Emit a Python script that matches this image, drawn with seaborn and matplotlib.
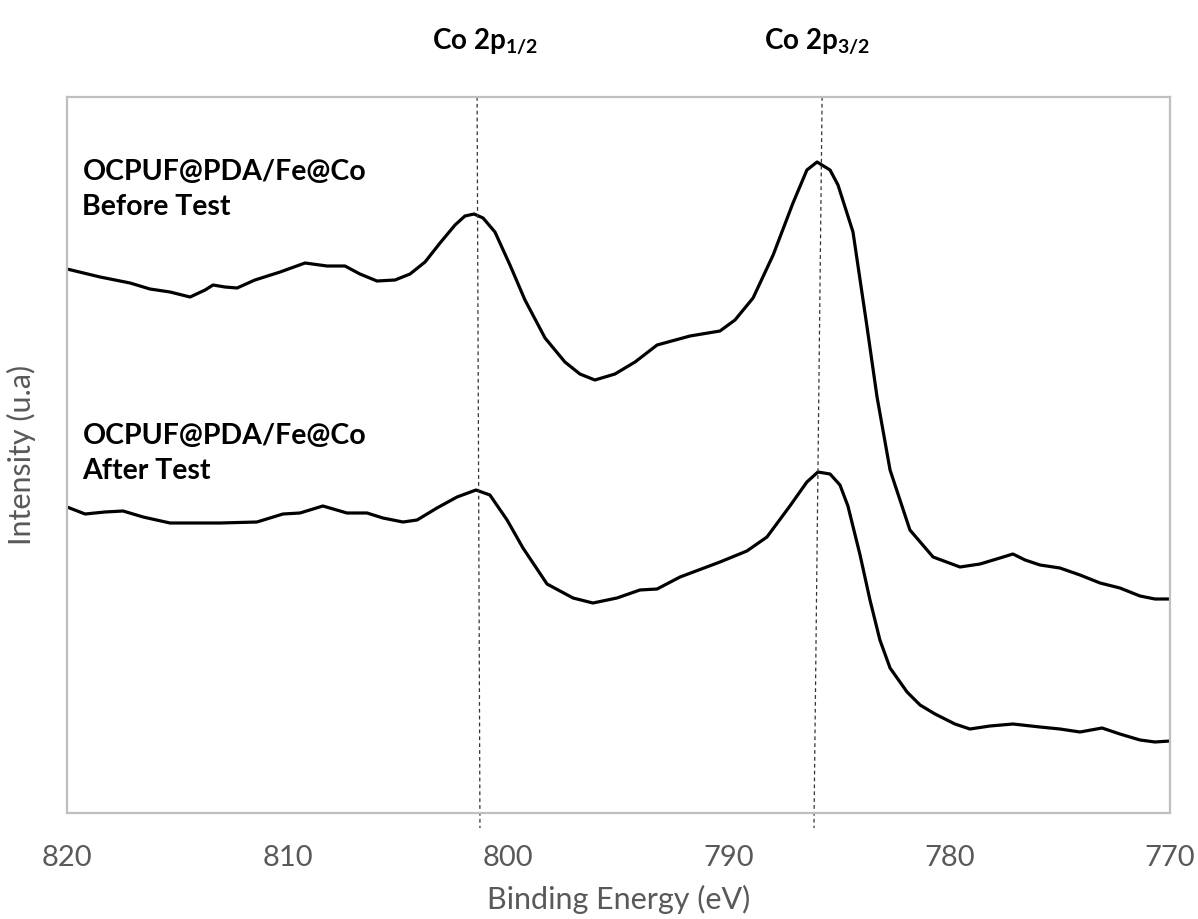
import numpy as np
import pandas as pd
import matplotlib
matplotlib.use("Agg")
import matplotlib.pyplot as plt
import seaborn as sns

# ---- data ----
be_before = [820.0, 818.5, 817.14, 816.24, 815.33, 814.42, 813.74, 813.38, 812.84, 812.29,
             811.48, 810.34, 809.21, 808.21, 807.40, 806.72, 805.95, 805.13, 804.45, 803.77,
             803.09, 802.41, 801.96, 801.55, 801.14, 800.60, 799.92, 799.24, 798.33, 797.43,
             796.75, 796.07, 795.16, 794.25, 793.25, 791.76, 790.40, 789.72, 788.90, 787.99,
             787.09, 786.46, 786.00, 785.41, 785.05, 784.37, 783.74, 783.28, 782.69, 782.24,
             781.79, 780.74, 779.52, 778.61, 777.71, 777.12, 776.57, 775.89, 774.99, 774.08,
             773.17, 772.27, 771.36, 770.68, 770.0]
int_before = [544, 536, 530, 524, 521, 516, 523, 528, 526, 525,
              533, 541, 550, 547, 547, 539, 532, 533, 539, 551,
              570, 588, 597, 599, 595, 581, 548, 513, 475, 451,
              439, 433, 439, 451, 468, 477, 482, 493, 515, 558,
              610, 643, 651, 643, 628, 581, 487, 416, 343, 313,
              283, 256, 246, 249, 255, 259, 253, 248, 245, 238,
              230, 225, 217, 214, 214]

be_after = [820.0, 819.18, 818.28, 817.46, 816.55, 815.33, 814.29, 813.06, 811.39, 810.21,
            809.44, 808.40, 807.31, 806.40, 805.68, 804.77, 804.13, 803.23, 802.32, 801.46,
            800.83, 800.05, 799.33, 798.24, 797.06, 796.16, 795.07, 794.03, 793.25, 792.21,
            790.40, 789.18, 788.27, 787.23, 786.46, 785.96, 785.41, 784.96, 784.60, 784.05,
            783.60, 783.15, 782.69, 781.92, 781.33, 780.65, 779.75, 779.07, 778.16, 777.12,
            775.89, 774.99, 774.08, 773.08, 772.27, 771.36, 770.68, 770.0]
int_after = [306, 299, 301, 302, 296, 290, 290, 290, 291, 299,
             300, 307, 300, 300, 295, 291, 293, 305, 316, 323,
             318, 293, 265, 229, 215, 210, 215, 223, 224, 236,
             251, 262, 276, 307, 331, 341, 339, 328, 307, 258,
             213, 173, 145, 121, 108, 99, 89, 84, 87, 89,
             86, 84, 81, 85, 79, 73, 71, 72]

x_ticks = [820, 810, 800, 790, 780, 770]
peak_labels = [r"Co 2p$_{\mathbf{1/2}}$", r"Co 2p$_{\mathbf{3/2}}$"]
peak_label_x = [801.05, 786.0]
# guide lines (slightly tilted as in the reference): top / bottom positions in eV
guide_top = [801.41, 785.77]
guide_bottom = [801.28, 786.14]
series_labels = ["OCPUF@PDA/Fe@Co\nBefore Test", "OCPUF@PDA/Fe@Co\nAfter Test"]

df = pd.concat([
    pd.DataFrame({"be": be_before, "I": int_before, "s": "before"}),
    pd.DataFrame({"be": be_after, "I": int_after, "s": "after"}),
])

sns.set_theme(style="white")
plt.rcParams["font.family"] = ["Lato", "DejaVu Sans"]
plt.rcParams["mathtext.fontset"] = "custom"
plt.rcParams["mathtext.bf"] = "Lato:bold"
plt.rcParams["mathtext.rm"] = "Lato"

fig = plt.figure(figsize=(11.98, 9.19), dpi=100)
ax = fig.add_axes([67 / 1198, 1 - 813 / 919, (1170 - 67) / 1198, (813 - 97) / 919])

sns.lineplot(data=df, x="be", y="I", hue="s", palette={"before": "black", "after": "black"},
             linewidth=2.3, legend=False, ax=ax, sort=False, estimator=None)
for l in ax.lines:
    l.set_solid_joinstyle("round")
    l.set_solid_capstyle("round")

ax.set_xlim(820, 770)
ax.set_ylim(0, 716)
ax.set_xticks(x_ticks)
ax.set_xticklabels([str(t) for t in x_ticks])
ax.set_yticks([])
ax.tick_params(axis="x", length=0, pad=23, labelsize=21, labelcolor="#595959")
for sp in ax.spines.values():
    sp.set_visible(True)
    sp.set_color("#bfbfbf")
    sp.set_linewidth(1.6)

ax.set_xlabel("Binding Energy (eV)", fontsize=22, color="#595959", labelpad=10)
ax.set_ylabel("Intensity (u.a)", fontsize=22, color="#595959", labelpad=22)

# dashed guide lines
for xt, xb in zip(guide_top, guide_bottom):
    ax.plot([xt, xb], [716, -15], color="#333333", lw=0.9, ls=(0, (3, 2.5)), clip_on=False)

# peak labels above the axes
for lab, xp in zip(peak_labels, peak_label_x):
    ax.text(xp, 764, lab, ha="center", va="baseline", fontsize=20, fontweight="bold",
            color="black", clip_on=False)

# series labels (y = baseline of the second line)
ax.text(819.3, 598, series_labels[0], ha="left", va="baseline", fontsize=20.5,
        fontweight="bold", linespacing=1.45, color="black")
ax.text(819.3, 334, series_labels[1], ha="left", va="baseline", fontsize=20.5,
        fontweight="bold", linespacing=1.45, color="black")

fig.savefig("out.png", dpi=100)
